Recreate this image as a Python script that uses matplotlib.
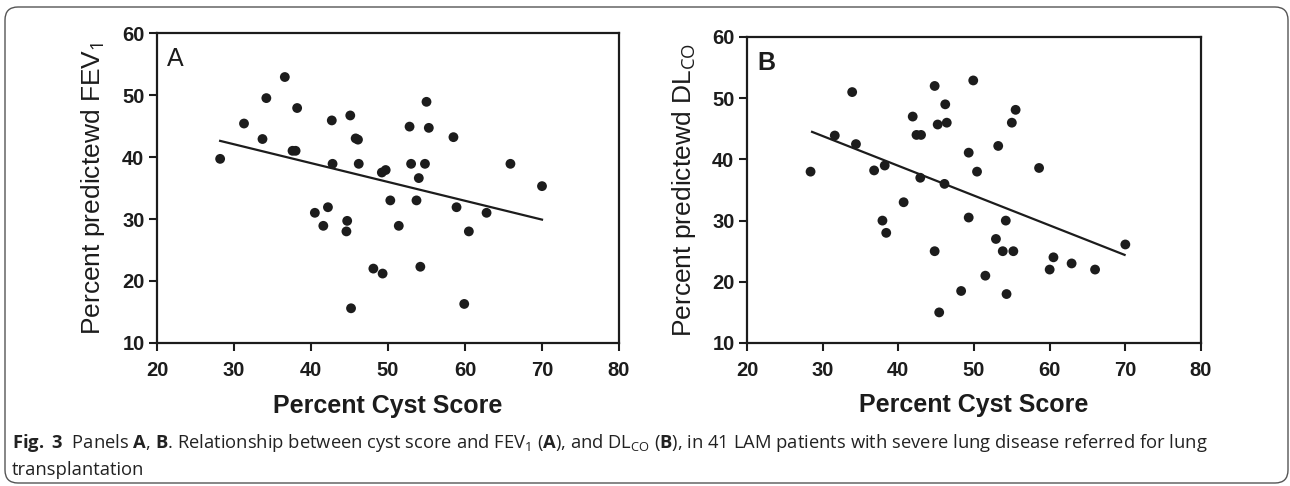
import matplotlib
matplotlib.use("Agg")
import matplotlib.pyplot as plt
from matplotlib import font_manager
from matplotlib.patches import FancyBboxPatch

# Panel A: percent cyst score vs percent predicted FEV1
cyst_a = [28.2, 31.3, 33.7, 34.2, 36.6, 37.6, 38.0, 38.2, 42.7, 42.8,
          45.1, 45.8, 46.1, 46.2, 49.2, 49.7, 52.8, 53.0, 54.0, 54.8,
          55.0, 55.3, 58.5, 65.9, 70.0, 50.3, 53.7, 58.9, 62.8, 40.5,
          42.2, 41.6, 44.7, 44.6, 51.4, 60.5, 48.1, 49.3, 54.2, 45.2, 59.9]
fev1 = [39.7, 45.4, 42.9, 49.5, 52.9, 41.0, 41.0, 47.9, 45.9, 38.9,
        46.7, 43.0, 42.8, 38.9, 37.5, 37.9, 44.9, 38.9, 36.6, 38.9,
        48.9, 44.7, 43.2, 38.9, 35.3, 33.0, 33.0, 31.9, 31.0, 31.0,
        31.9, 28.9, 29.7, 28.0, 28.9, 28.0, 22.0, 21.2, 22.3, 15.6, 16.3]
fit_a_x = [28.2, 70.0]
fit_a_y = [42.6, 29.9]

# Panel B: percent cyst score vs percent predicted DLCO
cyst_b = [28.4, 31.6, 33.9, 34.4, 36.8, 38.2, 37.9, 38.4, 40.7, 41.9,
          42.4, 43.0, 42.9, 44.8, 44.8, 45.2, 46.2, 46.4, 46.1, 45.4,
          48.3, 49.3, 49.3, 49.9, 50.4, 51.5, 52.9, 53.2, 53.8, 54.2,
          54.3, 55.0, 55.2, 55.5, 58.6, 60.0, 60.5, 62.9, 66.0, 70.0]
dlco = [38.0, 43.9, 51.0, 42.5, 38.2, 39.0, 30.0, 28.0, 33.0, 47.0,
        44.0, 44.0, 37.0, 52.0, 25.0, 45.7, 49.0, 46.0, 36.0, 15.0,
        18.5, 41.1, 30.5, 52.9, 38.0, 21.0, 27.0, 42.2, 25.0, 30.0,
        18.0, 46.0, 25.0, 48.1, 38.6, 22.0, 24.0, 23.0, 22.0, 26.1]
fit_b_x = [28.6, 69.9]
fit_b_y = [44.5, 24.4]

x_ticks = [20, 30, 40, 50, 60, 70, 80]
y_ticks = [10, 20, 30, 40, 50, 60]

INK = "#1c1c1c"
available = {f.name for f in font_manager.fontManager.ttflist}
CAPTION_FONT = next((f for f in ["Liberation Sans Narrow", "DejaVu Sans Condensed",
                                 "Open Sans", "Liberation Sans"] if f in available),
                    "DejaVu Sans")

plt.rcParams["font.family"] = ["Liberation Sans", "DejaVu Sans"]
plt.rcParams["mathtext.fontset"] = "custom"
plt.rcParams["mathtext.rm"] = CAPTION_FONT
plt.rcParams["mathtext.bf"] = CAPTION_FONT + ":bold"
plt.rcParams["mathtext.it"] = CAPTION_FONT + ":italic"

W, H = 1290, 486
fig = plt.figure(figsize=(W / 100, H / 100), dpi=100)

# rounded frame around the whole figure (in inches so the corners stay round)
frame = FancyBboxPatch((0.05, 0.03), 12.83, 4.76,
                       boxstyle="round,pad=0,rounding_size=0.13",
                       transform=fig.dpi_scale_trans, fill=False,
                       edgecolor="#555555", linewidth=1.0)
fig.patches.append(frame)


def draw_panel(rect, xs, ys, fx, fy, ylabel, letter, letter_weight):
    ax = fig.add_axes(rect)
    ax.scatter(xs, ys, s=50, color=INK, edgecolors="none", zorder=3)
    ax.plot(fx, fy, color=INK, linewidth=1.6, zorder=2)
    ax.set_xlim(20, 80)
    ax.set_ylim(10, 60)
    ax.set_xticks(x_ticks)
    ax.set_yticks(y_ticks)
    for sp in ax.spines.values():
        sp.set_linewidth(1.6)
        sp.set_color(INK)
    ax.tick_params(axis="both", direction="out", length=6, width=1.5,
                   colors=INK, labelsize=14.5)
    ax.tick_params(axis="x", pad=7)
    ax.tick_params(axis="y", pad=3)
    for lab in ax.get_xticklabels() + ax.get_yticklabels():
        lab.set_fontweight("bold")
    ax.set_xlabel("Percent Cyst Score", fontsize=18, fontweight="bold", color=INK)
    ax.xaxis.set_label_coords(0.5, -0.165)
    ax.set_ylabel(ylabel, fontsize=19, color=INK)
    ax.yaxis.set_label_coords(-0.108, 0.5)
    ax.text(0.022, 0.955, letter, transform=ax.transAxes, fontsize=18,
            fontweight=letter_weight, color=INK, ha="left", va="top")
    return ax


draw_panel([157 / W, 1 - 343 / H, 462 / W, 310 / H], cyst_a, fev1,
           fit_a_x, fit_a_y, "Percent predictewd FEV$_1$", "A", "normal")
draw_panel([747 / W, 1 - 343 / H, 454 / W, 306 / H], cyst_b, dlco,
           fit_b_x, fit_b_y, "Percent predictewd DL$_{\\mathrm{CO}}$", "B", "bold")

# caption
line1 = (r"$\mathbf{Fig.\ 3}$  Panels $\mathbf{A}$, $\mathbf{B}$. Relationship between "
         r"cyst score and FEV$_1$ ($\mathbf{A}$), and DL$_{\mathrm{CO}}$ ($\mathbf{B}$), "
         r"in 41 LAM patients with severe lung disease referred for lung")
cap1 = fig.text(12 / W, 1 - 443 / H, line1, fontsize=12, family=CAPTION_FONT,
                color="#222222", ha="left", va="center")
cap2 = fig.text(12 / W, 1 - 470 / H, "transplantation", fontsize=12,
                family=CAPTION_FONT, color="#222222", ha="left", va="center")

# size the caption so that its first line spans the frame width like the original
fig.canvas.draw()
width = cap1.get_window_extent().width
fs = 12 * 1190 / width
cap1.set_fontsize(fs)
cap2.set_fontsize(fs)

fig.savefig("out.png", dpi=100, facecolor="white")
